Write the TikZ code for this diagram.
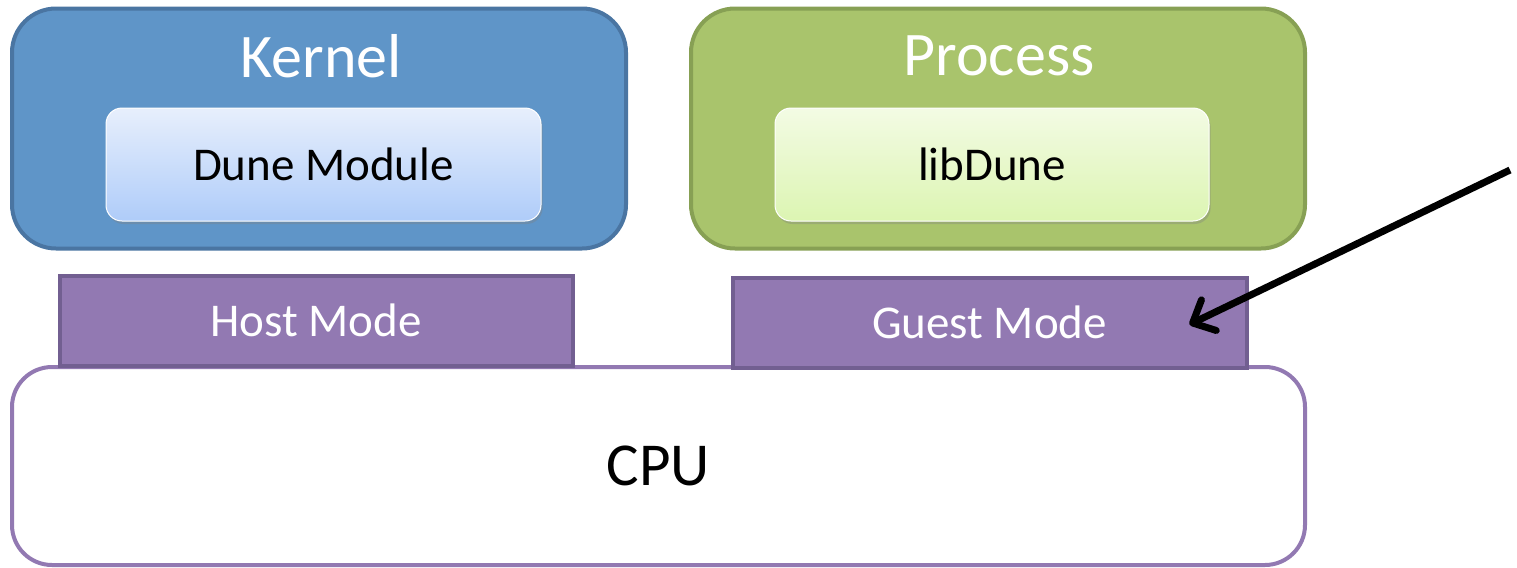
\documentclass[tikz,border=0pt]{standalone}
\usepackage{fontspec}
\setmainfont{Carlito}
\usetikzlibrary{calc,shadows,arrows.meta}
\definecolor{kernelfill}{HTML}{5F95C8}
\definecolor{kernelline}{HTML}{4A75A2}
\definecolor{processfill}{HTML}{A9C46C}
\definecolor{processline}{HTML}{87A054}
\definecolor{modepurple}{HTML}{9279B2}
\definecolor{modeline}{HTML}{725F91}
\tikzset{
  /tikz/.cd,
  space/.style={draw=#1line,fill=#1fill,line width=2pt,rounded corners=22pt,minimum width=307pt,minimum height=120pt},
  module/.style={draw=white,line width=.5pt,rounded corners=8pt,minimum width=217.5pt,minimum height=56.5pt,
    drop shadow={opacity=.35,shadow xshift=.8pt,shadow yshift=-1.5pt},font=\fontsize{23.5}{28}\selectfont},
  mode/.style={draw=modeline,fill=modepurple,line width=2pt,minimum width=256.5pt,minimum height=45pt,
    text=white,font=\fontsize{23.5}{28}\selectfont}
}

\begin{document}
\begin{tikzpicture}[x=.5pt,y=-.5pt,
                    title/.style={text=white,font=\fontsize{31}{36}\selectfont}]
  \useasboundingbox (0,0) rectangle (1517,568);

  \node[space=kernel] (kernel) at (319,128.5) {};
  \node[title] (kerneltitle) at (321,56) {Kernel};
  \node[module,top color={rgb,255:red,231;green,239;blue,252},bottom color={rgb,255:red,175;green,204;blue,249}] (dunemodule) at (323.5,164.5) {Dune Module};

  \node[space=process] (process) at (998,128.5) {};
  \node[title] (processtitle) at (999,56) {Process};
  \node[module,top color={rgb,255:red,243;green,251;blue,228},bottom color={rgb,255:red,220;green,245;blue,178},minimum width=217pt] (libdune) at (992,164.5) {libDune};

  \node[draw=modepurple,fill=white,line width=2pt,rounded corners=20pt,minimum width=646.5pt,minimum height=99pt,
        font=\fontsize{30.5}{36}\selectfont] (cpu) at (658.5,466) {CPU};

  \node[mode] (host) at (316,320.5) {Host Mode};
  \node[mode,minimum width=257pt] (guest) at (989.5,322.5) {Guest Mode};

  \coordinate (pointer) at (1510,170);
  \draw[line width=3.5pt,-{Straight Barb[length=9pt,width=17pt,line width=3.5pt,round]},
        drop shadow={opacity=.3,shadow xshift=1pt,shadow yshift=-1.5pt}] (pointer) -- ([xshift=-29.5pt,yshift=-1pt]guest.east);
\end{tikzpicture}
\end{document}
